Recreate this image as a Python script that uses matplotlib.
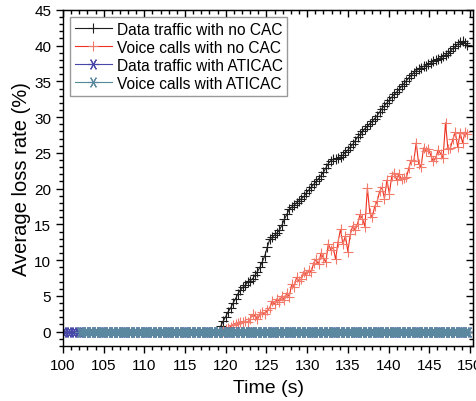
import matplotlib
matplotlib.use("Agg")
import matplotlib.pyplot as plt
from matplotlib.ticker import MultipleLocator
import numpy as np

plt.rcParams["font.family"] = ["Liberation Sans", "DejaVu Sans"]

# 数据：平均丢失率 (%)，采样间隔约 0.3 s
data_nocac = [0.8, 1.5, 2.1, 2.8, 3.3, 4.0, 4.6, 5.3, 5.8, 6.2,
              6.5, 6.9, 7.1, 7.4, 7.9, 8.4, 9.0, 9.8, 10.6, 11.8,
              12.9, 13.2, 13.5, 13.8, 14.2, 14.9, 15.7, 16.4, 17.1, 17.4,
              17.7, 18.0, 18.3, 18.6, 18.9, 19.4, 19.8, 20.2, 20.6, 21.0,
              21.4, 21.8, 22.3, 22.9, 23.5, 23.9, 24.1, 24.2, 24.3, 24.4,
              24.7, 25.1, 25.4, 25.8, 26.2, 26.7, 27.2, 27.6, 28.0, 28.4,
              28.7, 29.1, 29.4, 29.8, 30.2, 30.7, 31.2, 31.6, 32.0, 32.4,
              32.8, 33.2, 33.5, 33.9, 34.3, 34.7, 35.1, 35.5, 35.9, 36.2,
              36.5, 36.7, 36.9, 37.1, 37.2, 37.4, 37.6, 37.8, 38.0, 38.1,
              38.3, 38.5, 38.7, 38.9, 39.2, 39.6, 39.9, 40.2, 40.5, 40.6,
              40.4, 40.1]
t_data_nocac = 119.4 + 0.3 * np.arange(len(data_nocac))

voice_nocac = [0.1, 0.3, 0.5, 0.7, 0.9, 1.0, 1.2, 1.4, 1.3, 1.5,
               1.3, 1.8, 2.4, 2.2, 1.7, 2.5, 2.7, 2.4, 3.0, 3.3,
               4.3, 3.8, 4.6, 4.2, 5.0, 4.4, 5.4, 4.9, 6.6, 6.3,
               7.6, 7.1, 7.4, 8.4, 7.9, 8.6, 8.3, 9.6, 10.1, 9.4,
               11.0, 10.3, 9.7, 12.3, 11.4, 11.8, 10.1, 12.6, 14.3, 12.2,
               13.4, 11.2, 13.6, 14.8, 14.2, 15.1, 16.4, 15.8, 14.7, 20.1,
               16.6, 16.0, 17.5, 18.2, 19.6, 20.2, 18.6, 21.2, 19.3, 21.8,
               22.2, 21.2, 22.0, 21.3, 21.5, 21.6, 22.9, 24.0, 23.8, 26.4,
               23.5, 23.0, 25.7, 25.2, 25.6, 24.6, 23.8, 24.3, 25.4, 24.9,
               24.3, 29.2, 25.5, 25.7, 26.9, 27.9, 25.8, 27.8, 26.4, 27.9,
               27.6]
t_voice_nocac = 119.7 + 0.3 * np.arange(len(voice_nocac))

t_aticac = np.arange(100, 150.05, 0.3)
data_aticac = [0.0] * len(t_aticac)
voice_aticac = [0.0] * len(t_aticac)

labels = ["Data traffic with no CAC", "Voice calls with no CAC",
          "Data traffic with ATICAC", "Voice calls with ATICAC"]

fig = plt.figure(figsize=(4.77, 4.02), dpi=100)
ax = fig.add_axes([0.132, 0.137, 0.860, 0.836])

star = (6, 2, 90)  # 星形标记
ax.plot(t_data_nocac, data_nocac, color="#1e1e1e", lw=0.8, marker="+",
        ms=7, mew=0.8, label=labels[0])
ax.plot(t_voice_nocac, voice_nocac, color="#ee3020", lw=0.8, marker="+",
        ms=7, mew=0.8, mec="#f27a6a", label=labels[1])
ax.plot(t_aticac, data_aticac, color="#4848a8", lw=0.8, marker=star,
        ms=8, mew=0.8, label=labels[2])
ax.plot(t_aticac[7:], voice_aticac[7:], color="#4f8c94", lw=0.8, marker=star,
        ms=8, mew=0.8, mec="#5a889e", label=labels[3])

ax.set_xlim(100, 150.4)
ax.set_ylim(-2, 45)
ax.xaxis.set_major_locator(MultipleLocator(5))
ax.xaxis.set_minor_locator(MultipleLocator(1))
ax.yaxis.set_major_locator(MultipleLocator(5))
ax.yaxis.set_minor_locator(MultipleLocator(1))
ax.tick_params(which="both", direction="out", top=False, right=False,
               labelsize=11, width=1)
ax.tick_params(which="major", length=5)
ax.tick_params(which="minor", length=3)

# 上、右边框的内向刻度
axt = ax.secondary_xaxis("top")
axt.xaxis.set_major_locator(MultipleLocator(5))
axt.xaxis.set_minor_locator(MultipleLocator(1))
axt.tick_params(which="both", direction="in", labeltop=False, width=1)
axt.tick_params(which="major", length=5)
axt.tick_params(which="minor", length=3)
axr = ax.secondary_yaxis("right")
axr.yaxis.set_major_locator(MultipleLocator(5))
axr.yaxis.set_minor_locator(MultipleLocator(1))
axr.tick_params(which="both", direction="in", labelright=False, width=1)
axr.tick_params(which="major", length=5)
axr.tick_params(which="minor", length=3)

for s in ax.spines.values():
    s.set_linewidth(1)

ax.set_xlabel("Time (s)", fontsize=14, labelpad=5)
ax.set_ylabel("Average loss rate (%)", fontsize=14.5, labelpad=2)

leg = ax.legend(loc="upper left", fontsize=11.2, frameon=True, fancybox=False,
                handlelength=2.4, handletextpad=0.3, borderpad=0.3,
                labelspacing=0.2, borderaxespad=0.45)
leg.get_frame().set_edgecolor("#808080")
leg.get_frame().set_linewidth(1)

fig.savefig("out.png", dpi=100)
